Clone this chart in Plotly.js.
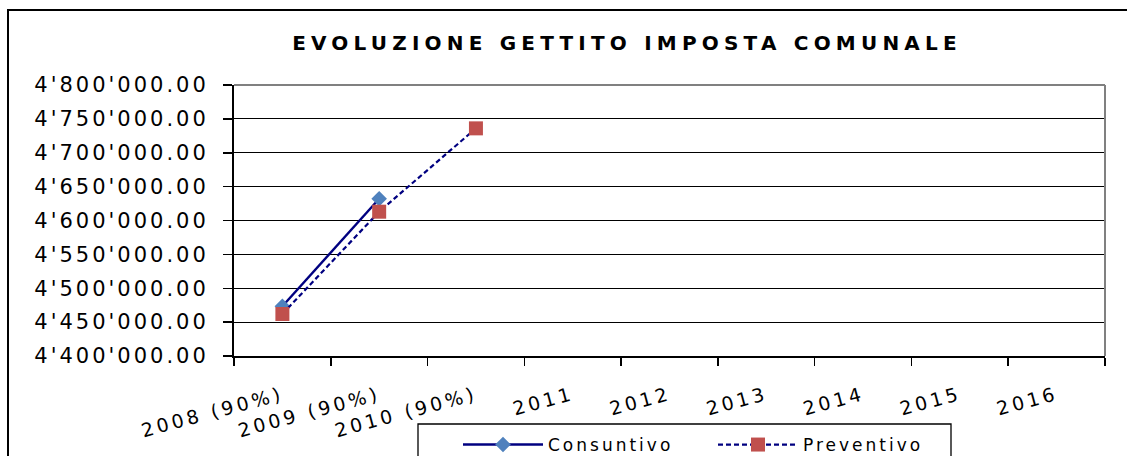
<!DOCTYPE html>
<html>
<head>
<meta charset="utf-8">
<script src="https://cdn.plot.ly/plotly-3.0.1.min.js"></script>
<style>
  html, body { margin: 0; padding: 0; background: #fff; }
  #chart { width: 1127px; height: 456px; }
  .gtitle { letter-spacing: 5.2px; }
  g.ytick text { letter-spacing: 3px; }
  g.xtick text { letter-spacing: 3.5px; }
  text.legendtext { letter-spacing: 3px; }
</style>
</head>
<body>
<div id="chart"></div>
<script>
// ---- data ----
const chartTitle = 'EVOLUZIONE GETTITO IMPOSTA COMUNALE';
const categories = ['2008 (90%)', '2009 (90%)', '2010 (90%)', '2011', '2012', '2013', '2014', '2015', '2016'];
const seriesNames = ['Consuntivo', 'Preventivo'];
const consuntivo = [4473500, 4632000, null, null, null, null, null, null, null];
const preventivo = [4462000, 4613000, 4736000, null, null, null, null, null, null];
const yRange = [4400000, 4800000];
const yStep = 50000;

// ---- layout geometry ----
const W = 1127, H = 456;
const M = {l: 234, r: 22, t: 85, b: 100};
const pw = W - M.l - M.r, ph = H - M.t - M.b;
const px = x => (x - M.l) / pw;          // pixel -> paper x
const py = y => (H - M.b - y) / ph;      // pixel -> paper y

const navy = '#000080';
const traces = [
  {
    x: categories, y: consuntivo, name: seriesNames[0], type: 'scatter', mode: 'lines+markers',
    line: {color: navy, width: 2.4},
    marker: {symbol: 'diamond', size: 12, color: '#4F81BD'}
  },
  {
    x: categories, y: preventivo, name: seriesNames[1], type: 'scatter', mode: 'lines+markers',
    line: {color: navy, width: 2.2, dash: '5px,3px'},
    marker: {symbol: 'square', size: 14, color: '#C0504D'}
  }
];

const font = 'DejaVu Sans, Liberation Sans, Arial, sans-serif';
const layout = {
  width: W, height: H,
  margin: M,
  paper_bgcolor: '#fff', plot_bgcolor: '#fff',
  separators: ".'",
  font: {family: font, color: '#000'},
  title: {
    text: '<b>' + chartTitle + '</b>',
    font: {family: 'DejaVu Sans, sans-serif', size: 20, color: '#000'},
    xref: 'container', x: 627 / W, xanchor: 'center',
    yref: 'container', y: 1 - 43 / H, yanchor: 'middle'
  },
  xaxis: {
    type: 'category', range: [-0.5, categories.length - 0.5],
    tickson: 'boundaries', ticks: 'outside', ticklen: 8, tickwidth: 1.5, tickcolor: '#000',
    showgrid: false, zeroline: false,
    showline: true, linecolor: '#000', linewidth: 2,
    tickangle: -15, tickfont: {family: font, size: 19, color: '#000'},
    ticklabelstandoff: 19,
    automargin: false
  },
  yaxis: {
    range: yRange, dtick: yStep, tick0: yRange[0], tickformat: ',.2f',
    ticks: 'outside', ticklen: 9, tickwidth: 1.5, tickcolor: '#000',
    showgrid: true, gridcolor: '#000', gridwidth: 1,
    zeroline: false, showline: true, linecolor: '#000', linewidth: 2,
    tickfont: {family: font, size: 21, color: '#000'},
    ticklabelstandoff: 10,
    automargin: false
  },
  showlegend: true,
  legend: {
    orientation: 'h',
    xref: 'container', x: 458 / W, xanchor: 'left',
    yref: 'container', y: 1 - 427 / H, yanchor: 'top',
    bgcolor: 'rgba(0,0,0,0)', borderwidth: 0,
    itemwidth: 80, entrywidth: 160,
    font: {family: font, size: 17, color: '#000'}
  },
  shapes: [
    // outer chart frame
    {type: 'rect', xref: 'paper', yref: 'paper', x0: px(8), x1: px(1145), y0: py(470), y1: py(10),
     line: {color: '#000', width: 2}, layer: 'below'},
    // plot area border (top & right)
    {type: 'line', xref: 'paper', yref: 'paper', x0: 0, x1: 1, y0: 1, y1: 1,
     line: {color: '#808080', width: 2}, layer: 'above'},
    {type: 'line', xref: 'paper', yref: 'paper', x0: 1, x1: 1, y0: 0, y1: 1,
     line: {color: '#808080', width: 2}, layer: 'above'},
    // legend box
    {type: 'rect', xref: 'paper', yref: 'paper', x0: px(418), x1: px(951), y0: py(475), y1: py(424),
     line: {color: '#000', width: 1.3}, layer: 'below'}
  ]
};

Plotly.newPlot('chart', traces, layout, {staticPlot: true, displayModeBar: false});
</script>
</body>
</html>
